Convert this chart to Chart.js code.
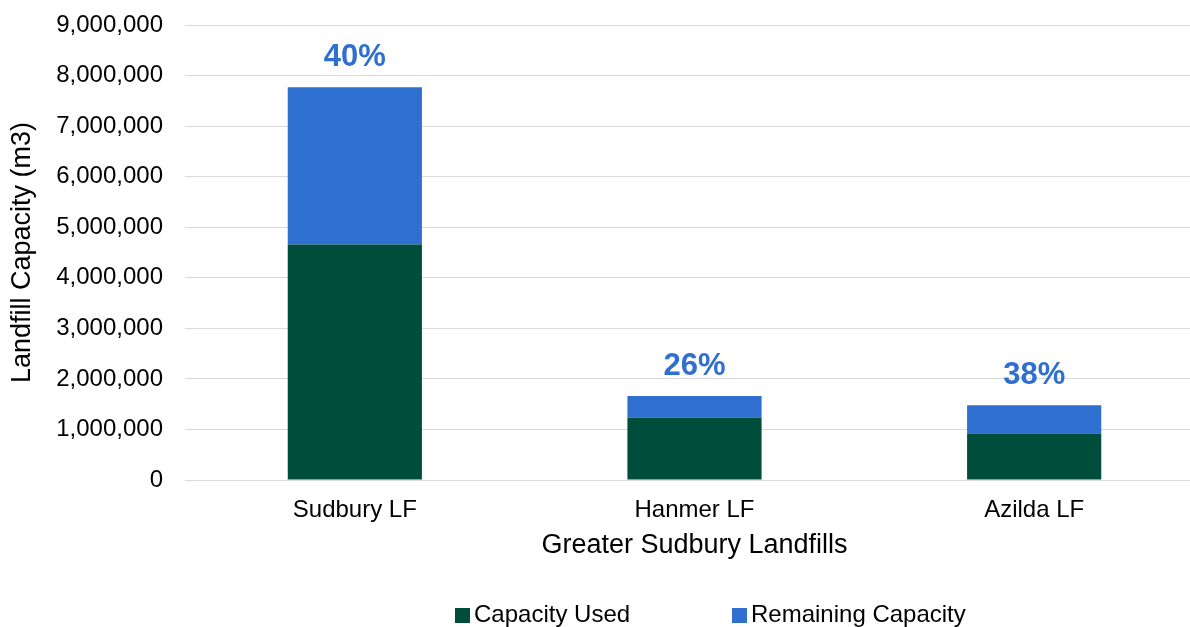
<!DOCTYPE html>
<html>
<head>
<meta charset="utf-8">
<script src="https://cdn.jsdelivr.net/npm/chart.js@4/dist/chart.umd.min.js"></script>
<style>
  html, body { margin: 0; padding: 0; background: #fff; overflow: hidden; }
  #wrap { position: relative; width: 1204px; height: 627px; }
  #legend { position: absolute; left: 0; top: 600px; width: 1190px; height: 28px;
            font-family: 'Liberation Sans', Arial, sans-serif; font-size: 24px; color: #000; }
  #legend span.item { position: absolute; top: 0; line-height: 28px; white-space: nowrap; }
  #legend span.box { display: inline-block; width: 15px; height: 15px; margin-right: 4px; vertical-align: -1px; }
</style>
</head>
<body>
<div id="wrap">
  <canvas id="c" width="1204" height="627"></canvas>
  <div id="legend"></div>
</div>
<script>
// landfill capacity, m3
var landfills = ['Sudbury LF', 'Hanmer LF', 'Azilda LF'];
var capacityUsed = [4660000, 1230000, 920000];
var remainingCapacity = [3110000, 430000, 560000];
var seriesNames = ['Capacity Used', 'Remaining Capacity'];
var seriesColors = ['#004d3c', '#2e6fcf'];

var FONT = "'Liberation Sans', Arial, sans-serif";

// percent of remaining capacity written above each stack
var pctLabels = {
    id: 'pctLabels',
    afterDatasetsDraw: function (chart) {
        var ctx = chart.ctx;
        var meta = chart.getDatasetMeta(1);
        ctx.save();
        ctx.font = 'bold 31px ' + FONT;
        ctx.fillStyle = '#2e6fcf';
        ctx.textAlign = 'center';
        ctx.textBaseline = 'middle';
        meta.data.forEach(function (bar, i) {
            var total = capacityUsed[i] + remainingCapacity[i];
            var pct = Math.round(remainingCapacity[i] / total * 100) + '%';
            ctx.fillText(pct, bar.x, bar.y - 30);
        });
        ctx.restore();
    }
};

// legend built as html below the plot
var htmlLegend = {
    id: 'htmlLegend',
    afterUpdate: function (chart) {
        var box = document.getElementById('legend');
        box.innerHTML = '';
        var lefts = [455, 732];
        chart.data.datasets.forEach(function (ds, i) {
            var item = document.createElement('span');
            item.className = 'item';
            item.style.left = lefts[i] + 'px';
            var sw = document.createElement('span');
            sw.className = 'box';
            sw.style.background = ds.backgroundColor;
            item.appendChild(sw);
            item.appendChild(document.createTextNode(ds.label));
            box.appendChild(item);
        });
    }
};

new Chart(document.getElementById('c').getContext('2d'), {
    type: 'bar',
    data: {
        labels: landfills,
        datasets: [
            { label: seriesNames[0], data: capacityUsed, backgroundColor: seriesColors[0] },
            { label: seriesNames[1], data: remainingCapacity, backgroundColor: seriesColors[1] }
        ]
    },
    options: {
        responsive: false,
        animation: false,
        layout: { padding: { top: 25, right: 0, left: 0, bottom: 62 } },
        datasets: { bar: { barPercentage: 0.395, categoryPercentage: 1 } },
        scales: {
            x: {
                stacked: true,
                grid: { display: false, drawTicks: false },
                border: { color: '#d9d9d9', width: 1 },
                ticks: { color: '#000', font: { family: FONT, size: 24 }, padding: 16 },
                title: { display: true, text: 'Greater Sudbury Landfills', color: '#000',
                         font: { family: FONT, size: 27 }, padding: { top: 4, bottom: 3 } },
                afterFit: function (scale) { scale.height = 85; }
            },
            y: {
                stacked: true,
                min: 0, max: 9000000,
                ticks: {
                    stepSize: 1000000, color: '#000', padding: 22,
                    font: { family: FONT, size: 24, lineHeight: 0.2 },
                    callback: function (v) { return v.toLocaleString('en-US'); }
                },
                grid: { color: '#d9d9d9', lineWidth: 1, tickLength: 0 },
                border: { display: false },
                title: { display: true, text: 'Landfill Capacity (m3)', color: '#000',
                         font: { family: FONT, size: 27 }, padding: { top: 6, bottom: 4 } },
                afterFit: function (scale) { scale.width = 185; }
            }
        },
        plugins: {
            legend: { display: false },
            tooltip: { enabled: false }
        }
    },
    plugins: [pctLabels, htmlLegend]
});
</script>
</body>
</html>
